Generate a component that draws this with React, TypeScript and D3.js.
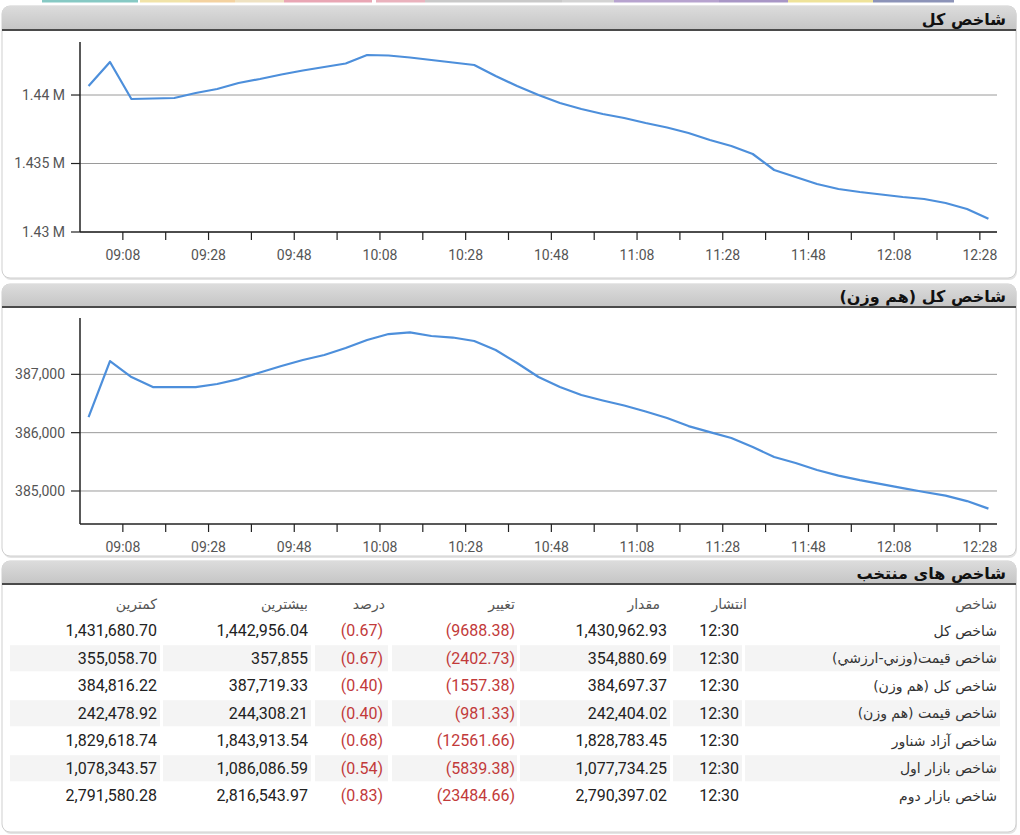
import React from 'react';
import * as d3 from 'd3';

// ---------- DATA ----------
const times = [
  '09:00','09:05','09:10','09:15','09:20','09:25','09:30','09:35','09:40','09:45',
  '09:50','09:55','10:00','10:05','10:10','10:15','10:20','10:25','10:30','10:35',
  '10:40','10:45','10:50','10:55','11:00','11:05','11:10','11:15','11:20','11:25',
  '11:30','11:35','11:40','11:45','11:50','11:55','12:00','12:05','12:10','12:15',
  '12:20','12:25','12:30',
];

const totalIndex = [
  1440658, 1442410, 1439709, 1439746, 1439782, 1440147, 1440439, 1440877, 1441169, 1441498,
  1441790, 1442045, 1442301, 1442921, 1442885, 1442739, 1442556, 1442374, 1442191, 1441388,
  1440658, 1440000, 1439417, 1438979, 1438614, 1438322, 1437957, 1437629, 1437227, 1436716,
  1436278, 1435694, 1434526, 1434015, 1433504, 1433139, 1432920, 1432738, 1432555, 1432409,
  1432117, 1431679, 1430963,
];

const equalWeightIndex = [
  386268, 387228, 386954, 386782, 386782, 386782, 386834, 386919, 387031, 387142,
  387245, 387331, 387451, 387588, 387691, 387719, 387657, 387631, 387571, 387417,
  387194, 386954, 386782, 386645, 386551, 386465, 386362, 386251, 386113, 386010,
  385908, 385753, 385582, 385479, 385359, 385264, 385187, 385119, 385050, 384982,
  384921, 384827, 384697,
];

const xMajorTicks = ['09:08','09:28','09:48','10:08','10:28','10:48','11:08','11:28','11:48','12:08','12:28'];
const xMinorTicks = ['09:18','09:38','09:58','10:18','10:38','10:58','11:18','11:38','11:58','12:18'];
const xDomain = ['08:58', '12:32'];

const totalTicks = [1430000, 1435000, 1440000];
const totalDomain = [1430000, 1443870];
const equalTicks = [385000, 386000, 387000];
const equalDomain = [384434, 387966];

const panelTitles = ['شاخص کل', 'شاخص کل (هم وزن)', 'شاخص های منتخب'];

const tableHeaders = ['شاخص', 'انتشار', 'مقدار', 'تغییر', 'درصد', 'بیشترین', 'کمترین'];
const indexNames = [
  'شاخص کل',
  'شاخص قیمت(وزني-ارزشي)',
  'شاخص کل (هم وزن)',
  'شاخص قیمت (هم وزن)',
  'شاخص آزاد شناور',
  'شاخص بازار اول',
  'شاخص بازار دوم',
];
const publishTimes = ['12:30','12:30','12:30','12:30','12:30','12:30','12:30'];
const indexValues = ['1,430,962.93','354,880.69','384,697.37','242,404.02','1,828,783.45','1,077,734.25','2,790,397.02'];
const indexChanges = ['(9688.38)','(2402.73)','(1557.38)','(981.33)','(12561.66)','(5839.38)','(23484.66)'];
const indexPercents = ['(0.67)','(0.67)','(0.40)','(0.40)','(0.68)','(0.54)','(0.83)'];
const indexHighs = ['1,442,956.04','357,855','387,719.33','244,308.21','1,843,913.54','1,086,086.59','2,816,543.97'];
const indexLows = ['1,431,680.70','355,058.70','384,816.22','242,478.92','1,829,618.74','1,078,343.57','2,791,580.28'];

const topStrip = [
  { x: 42, w: 96, c: '#86c9c4' }, { x: 140, w: 50, c: '#f1e3a8' }, { x: 190, w: 45, c: '#f4d2a0' },
  { x: 235, w: 49, c: '#efe2c2' }, { x: 284, w: 88, c: '#e9a6b4' }, { x: 376, w: 49, c: '#eab2bd' },
  { x: 425, w: 137, c: '#c9c9c9' }, { x: 562, w: 52, c: '#d3d3d3' }, { x: 614, w: 105, c: '#b7a3cf' },
  { x: 719, w: 69, c: '#a896c6' }, { x: 788, w: 85, c: '#efe39a' }, { x: 873, w: 81, c: '#8c93b8' },
];

// ---------- HELPERS ----------
const toMin = (t: string) => {
  const [h, m] = t.split(':').map(Number);
  return h * 60 + m;
};

const FA = '"DejaVu Sans", sans-serif';
const NUM = 'Roboto, sans-serif';
const PANEL_L = 2;
const PANEL_R = 1016;
const X0 = 80;
const X1 = 997;

function Panel({ top, headerBottom, bottom, title }: { top: number; headerBottom: number; bottom: number; title: string }) {
  const r = 8;
  const hdr = `M${PANEL_L},${headerBottom} L${PANEL_L},${top + r} Q${PANEL_L},${top} ${PANEL_L + r},${top} L${PANEL_R - r},${top} Q${PANEL_R},${top} ${PANEL_R},${top + r} L${PANEL_R},${headerBottom} Z`;
  return (
    <g>
      <rect x={PANEL_L + 1} y={top + 2} width={PANEL_R - PANEL_L} height={bottom - top} rx={r} fill="#e4e4e4" />
      <rect x={PANEL_L} y={top} width={PANEL_R - PANEL_L} height={bottom - top} rx={r} fill="#fff" stroke="#cfcfcf" strokeWidth={1} />
      <path d={hdr} fill="url(#hdrGrad)" />
      <line x1={PANEL_L} x2={PANEL_R} y1={headerBottom - 1} y2={headerBottom - 1} stroke="#4a4a4a" strokeWidth={2} />
      <text x={1006} y={headerBottom - 6} direction="rtl" textAnchor="start" fontFamily={FA} fontWeight="bold" fontSize={16} fill="#111">
        {title}
      </text>
    </g>
  );
}

function LineChart({ values, domain, ticks, top, bottom, fmt }: {
  values: number[]; domain: number[]; ticks: number[]; top: number; bottom: number; fmt: (v: number) => string;
}) {
  const x = d3.scaleLinear().domain(xDomain.map(toMin)).range([X0, X1]);
  const y = d3.scaleLinear().domain(domain).range([bottom, top]);
  const line = d3.line<number>()
    .x((_, i) => x(toMin(times[i])))
    .y((d) => y(d));
  return (
    <g>
      {ticks.map((t) => (
        <g key={t}>
          <line x1={X0} x2={X1} y1={y(t)} y2={y(t)} stroke="#9a9a9a" strokeWidth={1} />
          <line x1={X0 - 9} x2={X0} y1={y(t)} y2={y(t)} stroke="#222" strokeWidth={1.2} />
          <text x={X0 - 15} y={y(t)} dy="0.35em" textAnchor="end" fontFamily={NUM} fontSize={14} fill="#555">
            {fmt(t)}
          </text>
        </g>
      ))}
      <path d={line(values) || ''} fill="none" stroke="#4d8fdb" strokeWidth={2.2} strokeLinejoin="round" />
      <line x1={X0} x2={X0} y1={top} y2={bottom} stroke="#222" strokeWidth={1.5} />
      <line x1={X0} x2={X1} y1={bottom} y2={bottom} stroke="#222" strokeWidth={1.5} />
      {xMinorTicks.map((t) => (
        <line key={t} x1={x(toMin(t))} x2={x(toMin(t))} y1={bottom} y2={bottom + 8} stroke="#222" strokeWidth={1.2} />
      ))}
      {xMajorTicks.map((t) => (
        <g key={t}>
          <line x1={x(toMin(t))} x2={x(toMin(t))} y1={bottom} y2={bottom + 8} stroke="#222" strokeWidth={1.2} />
          <text x={x(toMin(t))} y={bottom + 28} textAnchor="middle" fontFamily={NUM} fontSize={14} fill="#555">
            {t}
          </text>
        </g>
      ))}
    </g>
  );
}

// ---------- TABLE ----------
const colRight = [997, 739, 667, 515, 383, 308, 157];
const headRight = [997, 747, 660, 515, 385, 308, 157];
const cellSpans = [[745, 1000], [673, 742], [520, 670], [392, 517], [315, 388], [163, 311], [10, 160]];
const rowTop = 617;
const rowH = 27.5;

function Table() {
  const cols = [indexNames, publishTimes, indexValues, indexChanges, indexPercents, indexHighs, indexLows];
  return (
    <g>
      {tableHeaders.map((h, i) => (
        <text key={h} x={headRight[i]} y={609} direction="rtl" textAnchor="start" fontFamily={FA} fontSize={14} fill="#555">
          {h}
        </text>
      ))}
      {indexNames.map((_, r) => {
        const yc = rowTop + r * rowH + rowH / 2;
        return (
          <g key={r}>
            {r % 2 === 1 && cellSpans.map(([a, b], k) => (
              <rect key={k} x={a} y={yc - 13} width={b - a} height={26} fill="#f4f4f4" />
            ))}
            {cols.map((col, c) => {
              const isFa = c === 0;
              const isRed = c === 3 || c === 4;
              return (
                <text
                  key={c}
                  x={colRight[c]}
                  y={yc}
                  dy="0.35em"
                  direction={isFa ? 'rtl' : undefined}
                  textAnchor={isFa ? 'start' : 'end'}
                  fontFamily={isFa ? FA : NUM}
                  fontSize={isFa ? 14 : 16}
                  fill={isRed ? '#c23a3a' : isFa ? '#333' : '#222'}
                >
                  {col[r]}
                </text>
              );
            })}
          </g>
        );
      })}
    </g>
  );
}

export default function App() {
  const fmtM = (v: number) => `${d3.format('.4~f')(v / 1e6)} M`;
  const fmtC = (v: number) => d3.format(',')(v);
  return (
    <div style={{ position: 'absolute', left: 0, top: 0 }}>
      <svg width={1020} height={835} style={{ display: 'block', background: '#fff' }}>
        <defs>
          <linearGradient id="hdrGrad" x1="0" y1="0" x2="0" y2="1">
            <stop offset="0" stopColor="#dcdcdc" />
            <stop offset="1" stopColor="#c4c4c4" />
          </linearGradient>
        </defs>
        {topStrip.map((s) => (
          <rect key={s.x} x={s.x} y={0} width={s.w} height={2.5} fill={s.c} />
        ))}
        <Panel top={6} headerBottom={31} bottom={278} title={panelTitles[0]} />
        <Panel top={284} headerBottom={308} bottom={556} title={panelTitles[1]} />
        <Panel top={561} headerBottom={585} bottom={832} title={panelTitles[2]} />
        <LineChart values={totalIndex} domain={totalDomain} ticks={totalTicks} top={42} bottom={232} fmt={fmtM} />
        <LineChart values={equalWeightIndex} domain={equalDomain} ticks={equalTicks} top={318} bottom={524} fmt={fmtC} />
        <Table />
      </svg>
    </div>
  );
}
